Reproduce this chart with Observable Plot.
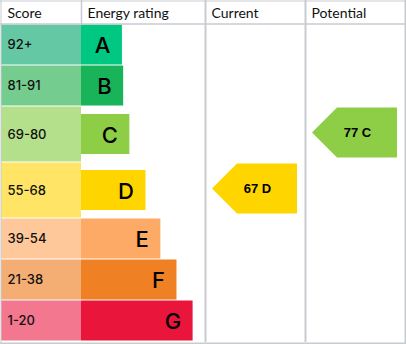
<!DOCTYPE html>
<html><head><meta charset="utf-8">
<script src="https://cdn.jsdelivr.net/npm/d3@7"></script>
<script src="https://cdn.jsdelivr.net/npm/@observablehq/plot@0.6"></script>
<style>body{margin:0;background:#fff;} svg{display:block}</style>
</head><body><div id="chart"></div>
<script>
// ---- data ----
const bands = ["A", "B", "C", "D", "E", "F", "G"];
const scoreRanges = ["92+", "81-91", "69-80", "55-68", "39-54", "21-38", "1-20"];
// bar length as share of the "Energy rating" column
const barShare = [0.33, 0.34, 0.39, 0.52, 0.64, 0.77, 0.90];
const barColors = ["#00c781", "#19b459", "#8dce46", "#ffd500", "#fcaa65", "#ef8023", "#e9153b"];
const scoreColors = ["#64c8a5", "#75cc8f", "#b5e08b", "#ffe466", "#fec89b", "#f4ad72", "#f2778f"];
const headers = ["Score", "Energy rating", "Current", "Potential"];
const ratingColumns = ["Current", "Potential"];
const ratingScores = [67, 77];
const ratingBands = ["D", "C"];

// ---- layout ----
const W = 406, H = 344;
const colEdges = [1, 81, 205, 305, 405];
const headerH = 24, rowH = 41, arrowRowH = 56, arrowH = 50, arrowTip = 25;
const grid = "#c8cbd0";

let yy = headerH;
const rows = bands.map((b, i) => {
  const h = ratingBands.includes(b) ? arrowRowH : rowH;
  const r = {band: b, score: scoreRanges[i], y1: yy, y2: yy + h, yc: yy + h / 2,
    barEnd: colEdges[1] + barShare[i] * (colEdges[2] - colEdges[1]),
    bar: barColors[i], light: scoreColors[i]};
  yy += h;
  return r;
});
const bottom = yy;

const arrowPts = [];
const arrowLabels = [];
ratingColumns.forEach((c, k) => {
  const ci = headers.indexOf(c);
  const row = rows.find(r => r.band === ratingBands[k]);
  const left = colEdges[ci] + 7, right = colEdges[ci + 1] - 8;
  const yc = row.yc - 1.5;
  const fill = row.bar;
  arrowPts.push({id: c, x: left, y1: yc, y2: yc, fill});
  arrowPts.push({id: c, x: left + arrowTip, y1: yc - arrowH / 2, y2: yc + arrowH / 2, fill});
  arrowPts.push({id: c, x: right, y1: yc - arrowH / 2, y2: yc + arrowH / 2, fill});
  arrowLabels.push({x: (left + right) / 2 + 2.5, y: yc, text: `${ratingScores[k]} ${ratingBands[k]}`});
});

const headerCells = headers.map((h, i) => ({text: h, x: colEdges[i] + 6}));

const chart = Plot.plot({
  width: W, height: H,
  margin: 0,
  x: {type: "linear", domain: [0, W], range: [0, W], axis: null},
  y: {type: "linear", domain: [0, H], range: [0, H], axis: null},
  style: {fontFamily: "Lato, sans-serif", background: "#fff", overflow: "visible"},
  marks: [
    // score cells
    Plot.rect(rows, {x1: colEdges[0], x2: colEdges[1], y1: "y1", y2: "y2", fill: "light", insetTop: 0.5, insetBottom: 0.5}),
    // energy bars
    Plot.rect(rows, {x1: colEdges[1], x2: "barEnd", y1: d => d.yc - rowH / 2, y2: d => d.yc + rowH / 2, fill: "bar", insetTop: 0.5, insetBottom: 0.5}),
    Plot.text(rows, {x: d => d.barEnd - 12, y: d => d.yc + 1, text: "band", textAnchor: "end", fontSize: 22, fontWeight: 500, fontFamily: "Inter, sans-serif", fill: "#000"}),
    Plot.text(rows, {x: colEdges[0] + 6, y: "yc", text: "score", textAnchor: "start", fontSize: 13, fontWeight: 500, fontFamily: "Inter, sans-serif", fill: "#111"}),
    // grid lines
    Plot.ruleY([headerH - 0.5], {x1: 0, x2: W, stroke: grid, strokeWidth: 1.5}),
    Plot.ruleX([colEdges[1]], {y1: 0, y2: headerH, stroke: grid, strokeWidth: 1.5}),
    Plot.ruleX([colEdges[2], colEdges[3]], {y1: 0, y2: bottom + 1, stroke: grid, strokeWidth: 2}),
    Plot.ruleX([0.5], {y1: 0, y2: H, stroke: grid, strokeWidth: 1}),
    Plot.ruleX([W - 1], {y1: 0, y2: H, stroke: grid, strokeWidth: 2}),
    Plot.ruleY([0.5], {x1: 0, x2: W, stroke: grid, strokeWidth: 1}),
    Plot.ruleY([bottom + 2], {x1: 0, x2: W, stroke: grid, strokeWidth: 2}),
    // headers
    Plot.text(headerCells, {x: "x", y: headerH / 2 + 1, text: "text", textAnchor: "start", fontSize: 14, fill: "#111"}),
    // rating arrows
    Plot.areaY(arrowPts, {x: "x", y1: "y1", y2: "y2", z: "id", fill: "fill", curve: "linear"}),
    Plot.text(arrowLabels, {x: "x", y: "y", text: "text", fontSize: 13, fontWeight: "bold", fontFamily: "Liberation Sans, Arial, sans-serif", fill: "#000"})
  ]
});
document.getElementById("chart").append(chart);
</script>
</body></html>
